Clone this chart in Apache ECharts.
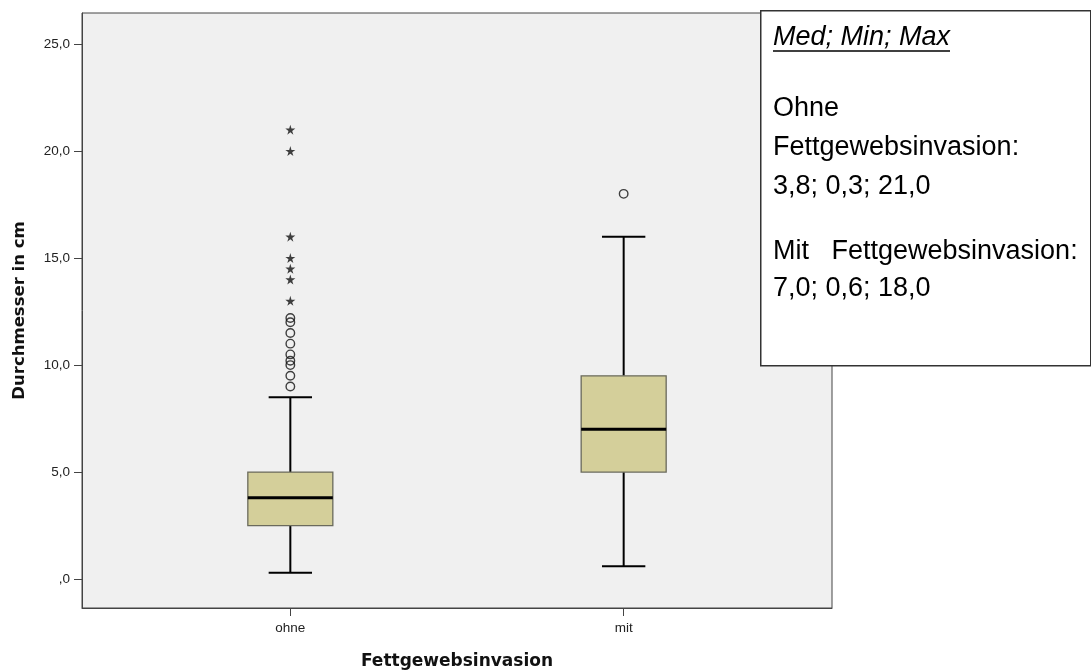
<!DOCTYPE html>
<html><head><meta charset="utf-8">
<script src="https://cdn.jsdelivr.net/npm/echarts@6/dist/echarts.min.js"></script>
<style>html,body{margin:0;padding:0;background:#fff}#c{width:1091px;height:671px}</style>
</head><body><div id="c"></div>
<script>
// ---- data ----
const categories = ['ohne', 'mit'];
// [lower whisker, Q1, median, Q3, upper whisker]
const ohneBox = [0.3, 2.5, 3.8, 5.0, 8.5];
const mitBox = [0.6, 5.0, 7.0, 9.5, 16.0];
const ohneOutliers = [9.0, 9.5, 10.0, 10.2, 10.5, 11.0, 11.5, 12.0, 12.2];
const ohneExtremes = [13.0, 14.0, 14.5, 15.0, 16.0, 20.0, 21.0];
const mitOutliers = [18.0];
const yTicks = [0, 5, 10, 15, 20, 25];
const yTickLabels = [',0', '5,0', '10,0', '15,0', '20,0', '25,0'];
const xTitle = 'Fettgewebsinvasion';
const yTitle = 'Durchmesser in cm';
const noteTitle = 'Med; Min; Max';
const noteLines = ['Ohne', 'Fettgewebsinvasion:', '3,8; 0,3; 21,0', 'Mit   Fettgewebsinvasion:', '7,0; 0,6; 18,0'];

// ---- layout helpers ----
const slots = 9;
const slotIndex = { ohne: 2, mit: 6 };
const axisData = [];
for (let i = 0; i < slots; i++) axisData.push('_' + i);
categories.forEach(c => { axisData[slotIndex[c]] = c; });

const boxData = [[categories[0]].concat(ohneBox), [categories[1]].concat(mitBox)];
const circleData = ohneOutliers.map(v => ['ohne', v]).concat(mitOutliers.map(v => ['mit', v]));
const starData = ohneExtremes.map(v => ['ohne', v]);

const starPath = 'path://M50,0 L61,35 L98,35 L68,57 L79,91 L50,70 L21,91 L32,57 L2,35 L39,35 Z';

const noteFont = 27;
const noteFamily = '"Liberation Sans", Arial, sans-serif';
const cv = document.createElement('canvas').getContext('2d');
cv.font = 'italic ' + noteFont + 'px ' + noteFamily;
const titleW = cv.measureText(noteTitle).width;

const noteY = [109, 148, 187, 252, 289];
const graphics = [
  { type: 'rect', left: 760, top: 10, shape: { width: 330, height: 355 },
    style: { fill: '#fff', stroke: '#333', lineWidth: 1.5 }, z: 100 },
  { type: 'text', x: 773, y: 37, style: { text: noteTitle, font: 'italic ' + noteFont + 'px ' + noteFamily, fill: '#000', verticalAlign: 'middle' }, z: 101 },
  { type: 'line', shape: { x1: 773, y1: 51, x2: 773 + titleW, y2: 51 }, style: { stroke: '#000', lineWidth: 1.5 }, z: 101 }
];
noteLines.forEach((t, i) => {
  graphics.push({ type: 'text', x: 773, y: noteY[i], style: { text: t, font: noteFont + 'px ' + noteFamily, fill: '#000', verticalAlign: 'middle' }, z: 101 });
});

const chart = echarts.init(document.getElementById('c'), null, { renderer: 'canvas' });
chart.setOption({
  animation: false,
  backgroundColor: '#fff',
  grid: { left: 82, top: 13, right: 259, bottom: 63, outerBoundsMode: 'none', containLabel: false,
    show: true, backgroundColor: '#f0f0f0', borderColor: '#444', borderWidth: 1 },
  xAxis: {
    type: 'category', data: axisData, boundaryGap: true,
    axisLine: { show: true, onZero: false, lineStyle: { color: '#444', width: 1 } },
    axisTick: { show: true, alignWithLabel: true, length: 8, lineStyle: { color: '#444' },
      interval: (i, v) => categories.indexOf(v) >= 0 },
    axisLabel: { interval: 0, margin: 13, color: '#222', fontSize: 13.5, fontFamily: 'Liberation Sans, Arial, sans-serif',
      formatter: v => categories.indexOf(v) >= 0 ? v : '' },
    splitLine: { show: false },
    name: xTitle, nameLocation: 'middle', nameGap: 45,
    nameTextStyle: { fontFamily: 'DejaVu Sans', fontWeight: 'bold', fontSize: 17, color: '#111' }
  },
  yAxis: {
    type: 'value', min: -1.35, max: 26.45,
    axisLine: { show: true, onZero: false, lineStyle: { color: '#444', width: 1 } },
    axisTick: { show: true, length: 8, customValues: yTicks, lineStyle: { color: '#444' } },
    axisLabel: { customValues: yTicks, margin: 12, color: '#222', fontSize: 13.5, fontFamily: 'Liberation Sans, Arial, sans-serif',
      formatter: v => { const i = yTicks.indexOf(v); return i >= 0 ? yTickLabels[i] : ''; } },
    splitLine: { show: false },
    name: yTitle, nameLocation: 'middle', nameGap: 54, nameRotate: 90,
    nameTextStyle: { fontFamily: 'DejaVu Sans', fontWeight: 'bold', fontSize: 16.5, color: '#111' }
  },
  series: [
    {
      type: 'custom', data: boxData,
      encode: { x: 0, y: [1, 2, 3, 4, 5] },
      renderItem: (params, api) => {
        const x = api.value(0);
        const lo = api.coord([x, api.value(1)]);
        const q1 = api.coord([x, api.value(2)]);
        const md = api.coord([x, api.value(3)]);
        const q3 = api.coord([x, api.value(4)]);
        const hi = api.coord([x, api.value(5)]);
        const bw = api.size([1, 0])[0] * 1.02;
        const cx = md[0];
        const cw = bw * 0.51;
        const ls = { stroke: '#000', lineWidth: 2 };
        return { type: 'group', children: [
          { type: 'line', shape: { x1: cx, y1: hi[1], x2: cx, y2: q3[1] }, style: ls },
          { type: 'line', shape: { x1: cx, y1: q1[1], x2: cx, y2: lo[1] }, style: ls },
          { type: 'line', shape: { x1: cx - cw / 2, y1: hi[1], x2: cx + cw / 2, y2: hi[1] }, style: ls },
          { type: 'line', shape: { x1: cx - cw / 2, y1: lo[1], x2: cx + cw / 2, y2: lo[1] }, style: ls },
          { type: 'rect', shape: { x: cx - bw / 2, y: q3[1], width: bw, height: q1[1] - q3[1] },
            style: { fill: '#d4cf9a', stroke: '#6a6a5c', lineWidth: 1.3 } },
          { type: 'line', shape: { x1: cx - bw / 2, y1: md[1], x2: cx + bw / 2, y2: md[1] }, style: { stroke: '#000', lineWidth: 3 } }
        ] };
      }
    },
    {
      type: 'scatter', data: circleData, symbol: 'circle', symbolSize: 8.5,
      itemStyle: { color: 'rgba(0,0,0,0)', borderColor: '#111', borderWidth: 1.4 }
    },
    {
      type: 'scatter', data: starData, symbol: starPath, symbolSize: 10,
      itemStyle: { color: '#111' }
    }
  ],
  graphic: graphics
});
</script>
</body></html>
